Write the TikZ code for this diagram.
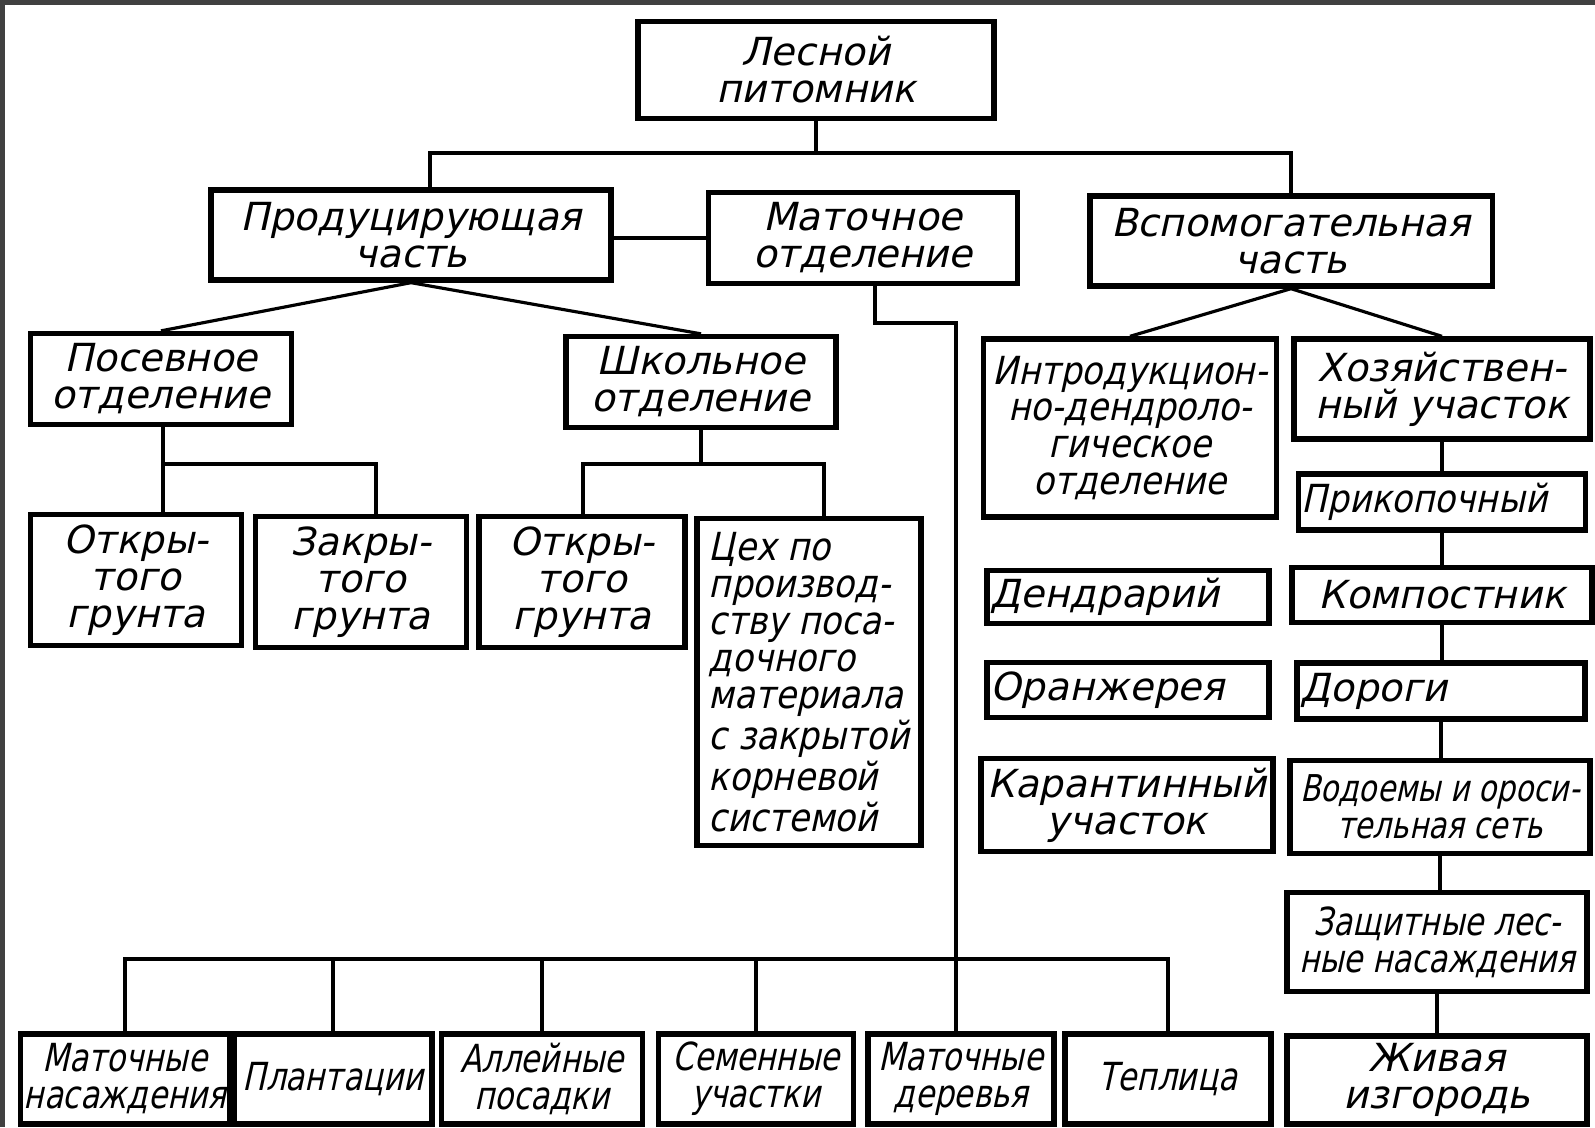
\documentclass[tikz,border=0pt]{standalone}
\usepackage{fontspec}
\newfontfamily\gost{DejaVu Sans}[FakeSlant=0.22]
\newfontfamily\gostmid{DejaVu Sans}[FakeSlant=0.22, FakeStretch=0.88]
\newfontfamily\gostnarrow{DejaVu Sans}[FakeSlant=0.22, FakeStretch=0.8]
\begin{document}
\begin{tikzpicture}[x=0.01cm, y=-0.01cm,
		box/.style={draw, line width=1.5pt, inner sep=1pt, align=center, font=\gost\fontsize{11pt}{10.5pt}\selectfont},
		mid/.style={font=\gostmid\fontsize{11pt}{10.5pt}\selectfont},
		narrow/.style={font=\gostnarrow\fontsize{11pt}{10.5pt}\selectfont},
		conn/.style={line width=0.9pt}]

		\useasboundingbox (0,0) rectangle (1595,1127);
		\fill[white] (0,0) rectangle (1595,1127);
		\fill[black!75] (0,0) rectangle (1595,5);
		\fill[black!75] (0,0) rectangle (5,1127);

		\node[box, minimum width=3.56cm, minimum height=0.97cm] (les) at (816,70) {Лесной\\питомник};

		\node[box, minimum width=4.00cm, minimum height=0.90cm] (prod) at (411,235) {Продуцирующая\\часть};
		\node[box, minimum width=3.09cm, minimum height=0.91cm] (mat) at (863,238) {Маточное\\отделение};
		\node[box, minimum width=4.02cm, minimum height=0.90cm] (vsp) at (1291,241) {Вспомогательная\\часть};

		\node[box, minimum width=2.61cm, minimum height=0.91cm] (posev) at (161,379) {Посевное\\отделение};
		\node[box, minimum width=2.70cm, minimum height=0.91cm] (shkol) at (701,382) {Школьное\\отделение};
		\node[box, mid, minimum width=2.93cm, minimum height=1.78cm] (intro) at (1130,428) {Интродукцион-\\но-дендроло-\\гическое\\отделение};
		\node[box, minimum width=2.96cm, minimum height=1.00cm] (hoz) at (1442,389) {Хозяйствен-\\ный участок};

		\node[box, minimum width=2.11cm, minimum height=1.31cm] (otkr1) at (136,580) {Откры-\\того\\грунта};
		\node[box, minimum width=2.11cm, minimum height=1.31cm] (zakr) at (361,582) {Закры-\\того\\грунта};
		\node[box, minimum width=2.06cm, minimum height=1.31cm] (otkr2) at (582,582) {Откры-\\того\\грунта};
		\node[box, mid, align=left, minimum width=2.24cm, minimum height=3.27cm] (tsekh) at (809,682) {Цех по\\производ-\\ству поса-\\дочного\\материала\\с закрытой\\корневой\\системой};

		\node[box, align=left, text width=2.75cm, minimum height=0.53cm] (dendr) at (1128,597) {Дендрарий};
		\node[box, align=left, text width=2.75cm, minimum height=0.55cm] (oranzh) at (1128,690) {Оранжерея};
		\node[box, minimum width=2.92cm, minimum height=0.93cm] (karant) at (1127,805) {Карантинный\\участок};

		\node[box, mid, align=left, text width=2.80cm, minimum height=0.56cm] (prik) at (1442,502) {Прикопочный};
		\node[box, minimum width=3.00cm, minimum height=0.55cm] (komp) at (1442,595) {Компостник};
		\node[box, align=left, text width=2.81cm, minimum height=0.56cm] (dorogi) at (1441,691) {Дороги};
		\node[box, narrow, font=\gostnarrow\fontsize{10.5pt}{10.5pt}\selectfont, minimum width=3.00cm, minimum height=0.93cm] (vodo) at (1440,807) {Водоемы и ороси-\\тельная сеть};
		\node[box, narrow, minimum width=3.00cm, minimum height=0.99cm] (zash) at (1437,942) {Защитные лес-\\ные насаждения};
		\node[box, minimum width=3.00cm, minimum height=0.88cm] (zhiv) at (1437,1080) {Живая\\изгородь};

		\node[box, narrow, minimum width=1.97cm, minimum height=0.90cm] (matnas) at (125,1079) {Маточные\\насаждения};
		\node[box, narrow, minimum width=1.98cm, minimum height=0.90cm] (plant) at (333,1079) {Плантации};
		\node[box, narrow, minimum width=2.01cm, minimum height=0.90cm] (alle) at (542,1079) {Аллейные\\посадки};
		\node[box, narrow, minimum width=1.95cm, minimum height=0.90cm] (semen) at (756,1079) {Семенные\\участки};
		\node[box, narrow, minimum width=1.86cm, minimum height=0.90cm] (derev) at (961,1079) {Маточные\\деревья};
		\node[box, narrow, minimum width=2.06cm, minimum height=0.90cm] (tepl) at (1168,1079) {Теплица};

		\coordinate (lbus) at (430,153);
		\draw[conn] (les.south) -- (les.south |- lbus);
		\draw[conn] (lbus |- prod.north) -- (lbus) -| (vsp.north);
		\draw[conn] (prod.east |- mat.west) -- (mat.west);

		\draw[conn] (prod.south) -- (posev.north);
		\draw[conn] (prod.south) -- (shkol.north);
		\draw[conn] (vsp.south) -- (intro.north);
		\draw[conn] (vsp.south) -- (hoz.north);

		\coordinate (pbusl) at (163,464);
		\coordinate (pbusr) at (376,464);
		\draw[conn] (pbusl |- posev.south) -- (pbusl |- otkr1.north);
		\draw[conn] (pbusl) -- (pbusr) -- (pbusr |- zakr.north);

		\coordinate (sbusl) at (583,464);
		\coordinate (sbusr) at (824,464);
		\draw[conn] (shkol.south) -- (shkol.south |- sbusl);
		\draw[conn] (sbusl |- otkr2.north) -- (sbusl) -- (sbusr) -- (sbusr |- tsekh.north);

		\coordinate (mbend1) at (875,323);
		\coordinate (mbend2) at (956,323);
		\draw[conn] (mbend1 |- mat.south) -- (mbend1) -- (mbend2) -- (mbend2 |- derev.north);

		\coordinate (bbus) at (129,959);
		\draw[conn] (matnas.north) |- (tepl.north |- bbus) -- (tepl.north);
		\draw[conn] (plant.north) -- (plant.north |- bbus);
		\draw[conn] (alle.north) -- (alle.north |- bbus);
		\draw[conn] (semen.north) -- (semen.north |- bbus);

		\draw[conn] (hoz.south) -- (hoz.south |- prik.north);
		\draw[conn] (prik.south) -- (prik.south |- komp.north);
		\draw[conn] (komp.south) -- (komp.south |- dorogi.north);
		\draw[conn] (dorogi.south) -- (dorogi.south |- vodo.north);
		\draw[conn] (vodo.south) -- (vodo.south |- zash.north);
		\draw[conn] (zash.south) -- (zash.south |- zhiv.north);
	\end{tikzpicture}
\end{document}
